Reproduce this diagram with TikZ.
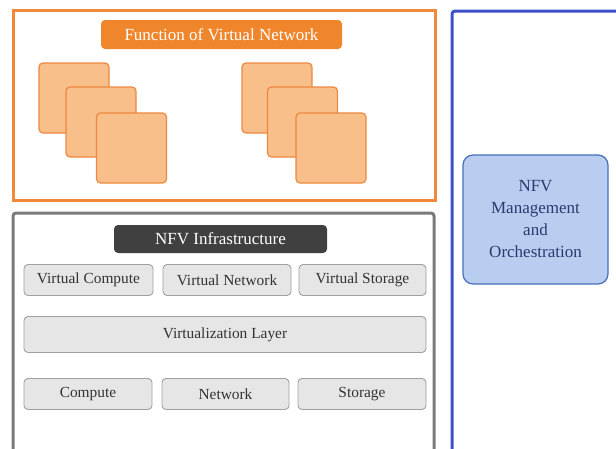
\documentclass[tikz,border=0pt]{standalone}
\usepackage{fontspec}
\setmainfont{Liberation Serif}
\definecolor{vnfline}{HTML}{F08A3A}
\definecolor{vnftitle}{HTML}{F0862C}
\definecolor{vnffill}{HTML}{F9BF8A}
\definecolor{vnfedge}{HTML}{EC8840}
\definecolor{nfviline}{HTML}{7A7A7A}
\definecolor{nfvititle}{HTML}{404040}
\definecolor{resfill}{HTML}{E6E6E6}
\definecolor{resedge}{HTML}{A0A0A0}
\definecolor{manoline}{HTML}{3F51C8}
\definecolor{manofill}{HTML}{B8CDEF}
\definecolor{manoedge}{HTML}{4670BC}
\definecolor{manotext}{HTML}{2A3B6E}
\tikzset{
  frame/.style={draw, line width=3pt, fill=white, inner sep=0pt},
  titlebox/.style={rounded corners=4pt, text=white, inner sep=0pt,
    font=\fontsize{17}{19}\selectfont},
  vnfsq/.style={draw=vnfedge, fill=vnffill, line width=1.2pt, rounded corners=4pt,
    minimum width=70pt, minimum height=70pt, inner sep=0pt},
  resbox/.style={draw=resedge, fill=resfill, line width=0.9pt, rounded corners=4pt,
    inner sep=0pt, minimum height=31pt, font=\fontsize{15.4}{17}\selectfont, text=black!80},
}
\begin{document}
\begin{tikzpicture}[x=1pt,y=-1pt]
  \useasboundingbox (0,0) rectangle (616,448);
  \clip (0,0) rectangle (616,448);
  \fill[white] (0,0) rectangle (616,448);

  % VNF layer
  \node[frame, draw=vnfline, minimum width=422pt, minimum height=190pt] (vnf) at (224,105) {};
  \node[titlebox, fill=vnftitle, minimum width=241pt, minimum height=29pt] (vnftitle) at (221.5,34.5) {Function of Virtual Network};
  \node[vnfsq] (a1) at (74,98) {};
  \node[vnfsq] (a2) at (101,122) {};
  \node[vnfsq] (a3) at (131.5,148) {};
  \node[vnfsq] (b1) at (277,98) {};
  \node[vnfsq] (b2) at (302.5,122) {};
  \node[vnfsq] (b3) at (331,148) {};

  % NFV infrastructure
  \node[frame, draw=nfviline, rounded corners=3pt, minimum width=421pt, minimum height=260pt] (nfvi) at (223.5,343) {};
  \node[titlebox, fill=nfvititle, minimum width=213pt, minimum height=28pt] (nfvititle) at (220.5,239) {NFV Infrastructure};
  \node[resbox, minimum width=129pt] (vcomp) at (88.5,280) {Virtual Compute};
  \node[resbox, minimum width=128pt] (vnet) at (227,280) {Virtual Network};
  \node[resbox, minimum width=127pt] (vstor) at (362.5,280) {Virtual Storage};
  \node[resbox, minimum width=402pt, minimum height=36pt] (virt) at (225,334.5) {Virtualization Layer};
  \node[resbox, minimum width=128pt] (comp) at (88,394) {Compute};
  \node[resbox, minimum width=127pt] (net) at (225.5,394) {Network};
  \node[resbox, minimum width=128pt] (stor) at (362,394) {Storage};

  % Management and orchestration
  \node[frame, draw=manoline, rounded corners=3pt, minimum width=190pt, minimum height=460pt] (manoframe) at (547,241) {};
  \node[draw=manoedge, fill=manofill, line width=1.2pt, rounded corners=10pt,
    minimum width=145pt, minimum height=129pt, inner sep=0pt, align=center,
    text=manotext, font=\fontsize{17}{22}\selectfont] (mano) at (535.5,219.5)
    {NFV\\Management\\and\\Orchestration};
\end{tikzpicture}
\end{document}
